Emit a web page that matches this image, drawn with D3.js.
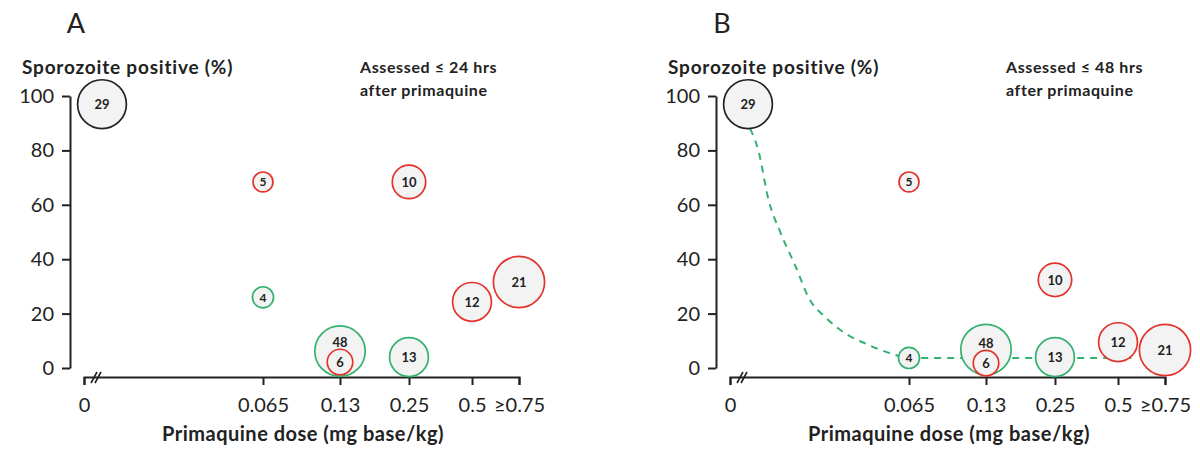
<!DOCTYPE html>
<html>
<head>
<meta charset="utf-8">
<script src="https://cdn.jsdelivr.net/npm/d3@7"></script>
<style>
  html, body { margin: 0; padding: 0; background: #fff; }
  svg { display: block; }
  text { font-family: "Lato", "Open Sans", sans-serif; fill: #222; }
</style>
</head>
<body>
<svg id="chart" width="1200" height="457"></svg>
<script>
// ---------------- DATA ----------------
const doseTicks = [0, 0.065, 0.13, 0.25, 0.5, 0.75];
const doseTickLabels = ["0", "0.065", "0.13", "0.25", "0.5", "\u22650.75"];
const yTicks = [0, 20, 40, 60, 80, 100];

const panelLetters = ["A", "B"];
const panelNotes = [["Assessed \u2264 24 hrs", "after primaquine"],
                    ["Assessed \u2264 48 hrs", "after primaquine"]];

// Bubbles (same order in both panels)
const bubbleLabels = ["29", "5", "10", "4", "48", "6", "13", "12", "21"];
const bubbleDose   = [0, 0.065, 0.25, 0.065, 0.13, 0.13, 0.25, 0.5, 0.75];
const bubbleGroup  = ["control", "red", "red", "green", "green", "red", "green", "red", "red"];
const bubbleSize   = [600, 100, 282, 112, 640, 164, 380, 380, 660];
const pctA = [97, 68.4, 68.4, 26, 6.2, 2.2, 4, 24.3, 31.6];
const pctB = [97, 68.4, 32.4, 3.7, 6.8, 1.8, 4, 9.5, 6.6];

// Dashed fitted curve in panel B (dose, %)
const curveDose = [0.0073, 0.0103, 0.014, 0.0184, 0.0239, 0.0286, 0.0349, 0.0422, 0.0496, 0.058, 0.065, 0.13, 0.25, 0.57];
const curvePct  = [88, 80, 61.8, 49.6, 37.1, 25.8, 18.4, 12.5, 8.8, 5.5, 3.7, 3.7, 3.7, 3.7];

// ---------------- LAYOUT ----------------
const svg = d3.select("#chart");
const colors = { control: "#222222", red: "#e2342d", green: "#34b06f" };
const fillColor = "#f3f3f3";
const panelX = [0, 646];
const controlOffset = 18;

const y = d3.scaleLinear().domain([0, 100]).range([368, 96]);
// uneven categorical-like dose axis, piecewise linear
const xRangeFrac = [0, 0.4115, 0.5885, 0.7471, 0.8920, 1];
const xLeft = 84, xRight = 519;
const x = d3.scaleLinear().domain(doseTicks)
  .range(xRangeFrac.map(f => xLeft + f * (xRight - xLeft)));
const r = d3.scaleSqrt().domain([0, 660]).range([0, 25.6]);

function bubbleX(d) {
  return x(d.dose) + (d.group === "control" ? controlOffset : 0);
}

function drawPanel(i, pcts, withCurve) {
  const g = svg.append("g").attr("transform", `translate(${panelX[i]},0)`);

  g.append("text").attr("x", 76).attr("y", 33).attr("text-anchor", "middle")
    .style("font-size", "27px").text(panelLetters[i]);

  g.append("text").attr("x", 22).attr("y", 74)
    .style("font-size", "19px").style("font-weight", "bold").style("letter-spacing", "0.8px")
    .text("Sporozoite positive (%)");

  const note = g.append("text").attr("x", 360).attr("y", 73)
    .style("font-size", "16px").style("font-weight", "bold").style("letter-spacing", "0.6px");
  panelNotes[i].forEach((t, k) => {
    note.append("tspan").attr("x", 360).attr("dy", k === 0 ? 0 : 23).text(t);
  });

  // Y axis
  const yAxis = g.append("g").attr("transform", "translate(70,0)")
    .call(d3.axisLeft(y).tickValues(yTicks).tickSize(8).tickSizeOuter(0).tickPadding(8));
  yAxis.selectAll("path, line").attr("stroke", "#222").attr("stroke-width", 2);
  yAxis.selectAll("text").style("font-size", "20px").style("font-family", "Lato, sans-serif").attr("fill", "#222");

  // X axis
  const xAxis = g.append("g").attr("transform", "translate(0,377)")
    .call(d3.axisBottom(x).tickValues(doseTicks).tickFormat((d, k) => doseTickLabels[k])
      .tickSize(8).tickSizeOuter(8).tickPadding(13));
  xAxis.selectAll("path, line").attr("stroke", "#222").attr("stroke-width", 2);
  xAxis.selectAll("text").style("font-size", "20px").style("font-family", "Lato, sans-serif").attr("fill", "#222");
  // axis break marks
  [0, 4].forEach(dx => {
    xAxis.append("line")
      .attr("x1", xLeft + 7 + dx).attr("y1", 6)
      .attr("x2", xLeft + 13 + dx).attr("y2", -5)
      .attr("stroke", "#222").attr("stroke-width", 1.6);
  });

  g.append("text").attr("x", 303).attr("y", 441).attr("text-anchor", "middle")
    .style("font-size", "20px").style("font-weight", "bold").style("letter-spacing", "0.5px")
    .text("Primaquine dose (mg base/kg)");

  // Curve
  if (withCurve) {
    const pts = curveDose.map((d, k) => [x(d), y(curvePct[k])]);
    g.append("path").datum(pts)
      .attr("d", d3.line().curve(d3.curveMonotoneX))
      .attr("fill", "none").attr("stroke", colors.green)
      .attr("stroke-width", 2).attr("stroke-dasharray", "7,6");
  }

  // Bubbles
  const data = bubbleLabels.map((lab, k) => ({
    label: lab, dose: bubbleDose[k], group: bubbleGroup[k], size: bubbleSize[k], pct: pcts[k]
  }));
  data.forEach(d => { d.cx = bubbleX(d); d.cy = y(d.pct); d.r = r(d.size); });
  // label position: if a smaller bubble sits inside this one, lift label above it
  data.forEach(d => {
    d.ly = d.cy;
    data.forEach(o => {
      if (o !== d && o.r < d.r && Math.hypot(o.cx - d.cx, o.cy - d.cy) + o.r <= d.r + 2) {
        d.ly = (o.cy - o.r) - 7;
      }
    });
  });
  const sorted = data.slice().sort((a, b) => b.r - a.r);
  const bg = g.append("g");
  bg.selectAll("circle").data(sorted).join("circle")
    .attr("cx", d => d.cx).attr("cy", d => d.cy).attr("r", d => d.r)
    .attr("fill", fillColor).attr("stroke", d => colors[d.group]).attr("stroke-width", 1.7);
  bg.selectAll("text").data(sorted).join("text")
    .attr("x", d => d.cx).attr("y", d => d.ly).attr("dy", "0.36em")
    .attr("text-anchor", "middle")
    .style("font-size", d => d.r < 12 ? "12px" : "13px").style("font-weight", "bold")
    .text(d => d.label);
}

drawPanel(0, pctA, false);
drawPanel(1, pctB, true);
</script>
</body>
</html>
